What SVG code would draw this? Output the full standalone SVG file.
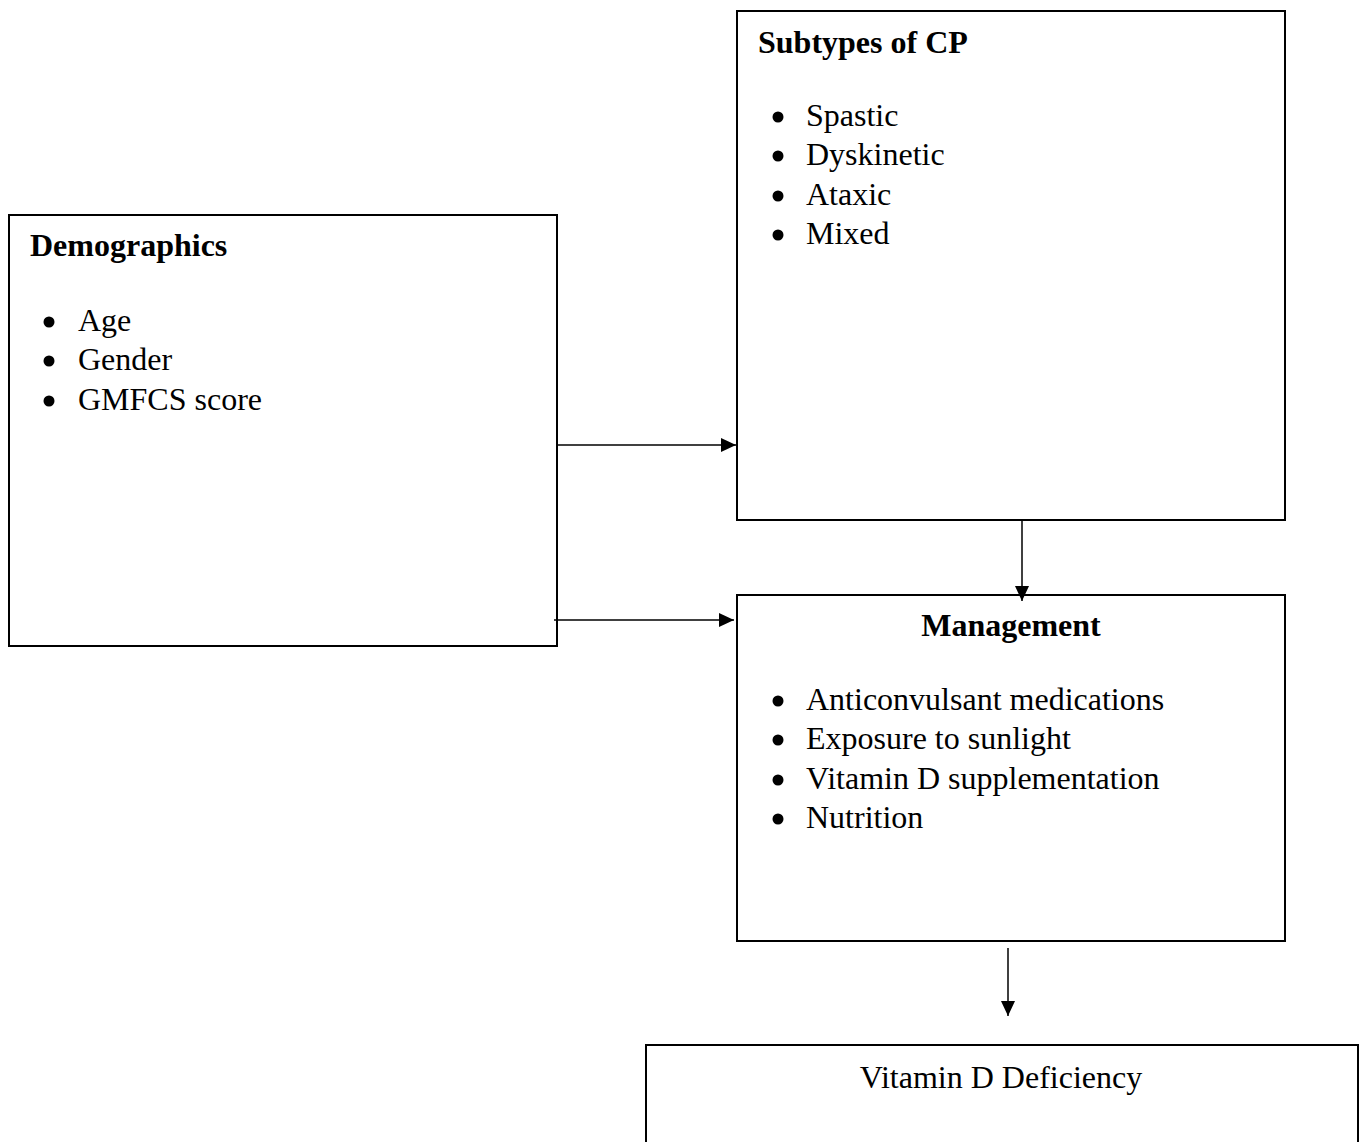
<svg xmlns="http://www.w3.org/2000/svg" width="1368" height="1142" viewBox="0 0 1368 1142">
<style>
.box{fill:#fff;stroke:#000;stroke-width:2}
.t{font-family:"Liberation Serif","Times New Roman",serif;font-size:32px;fill:#000}
.b{font-weight:bold}
.con{stroke:#000;stroke-width:1.5;fill:none}
</style>
<defs>
<marker id="ah" markerWidth="15" markerHeight="14" refX="15" refY="7" orient="auto" markerUnits="userSpaceOnUse" viewBox="0 0 15 14">
<path d="M0,0 L15,7 L0,14 z" fill="#000"/>
</marker>
</defs>
<rect width="1368" height="1142" fill="#fff"/>
<g id="demographics">
<rect class="box" x="9" y="215" width="548" height="431"/>
<text class="t b" x="30" y="256">Demographics</text>
<circle cx="49" cy="322" r="5.5"/><text class="t" x="78" y="331">Age</text>
<circle cx="49" cy="361" r="5.5"/><text class="t" x="78" y="370">Gender</text>
<circle cx="49" cy="401" r="5.5"/><text class="t" x="78" y="410">GMFCS score</text>
</g>
<g id="subtypes">
<rect class="box" x="737" y="11" width="548" height="509"/>
<text class="t b" x="758" y="53">Subtypes of CP</text>
<circle cx="778" cy="117" r="5.5"/><text class="t" x="806" y="126">Spastic</text>
<circle cx="778" cy="156" r="5.5"/><text class="t" x="806" y="165">Dyskinetic</text>
<circle cx="778" cy="196" r="5.5"/><text class="t" x="806" y="205">Ataxic</text>
<circle cx="778" cy="235" r="5.5"/><text class="t" x="806" y="244">Mixed</text>
</g>
<g id="management">
<rect class="box" x="737" y="595" width="548" height="346"/>
<text class="t b" x="1011" y="636" text-anchor="middle">Management</text>
<circle cx="778" cy="701" r="5.5"/><text class="t" x="806" y="710">Anticonvulsant medications</text>
<circle cx="778" cy="740" r="5.5"/><text class="t" x="806" y="749">Exposure to sunlight</text>
<circle cx="778" cy="780" r="5.5"/><text class="t" x="806" y="789">Vitamin D supplementation</text>
<circle cx="778" cy="819" r="5.5"/><text class="t" x="806" y="828">Nutrition</text>
</g>
<g id="vitd">
<rect class="box" x="646" y="1045" width="712" height="120"/>
<text class="t" x="1001" y="1088" text-anchor="middle">Vitamin D Deficiency</text>
</g>
<g id="connectors">
<line class="con" x1="557" y1="445" x2="736" y2="445" marker-end="url(#ah)"/>
<line class="con" x1="554" y1="620" x2="734" y2="620" marker-end="url(#ah)"/>
<line class="con" x1="1022" y1="521" x2="1022" y2="601" marker-end="url(#ah)"/>
<line class="con" x1="1008" y1="948" x2="1008" y2="1016" marker-end="url(#ah)"/>
</g>
</svg>
